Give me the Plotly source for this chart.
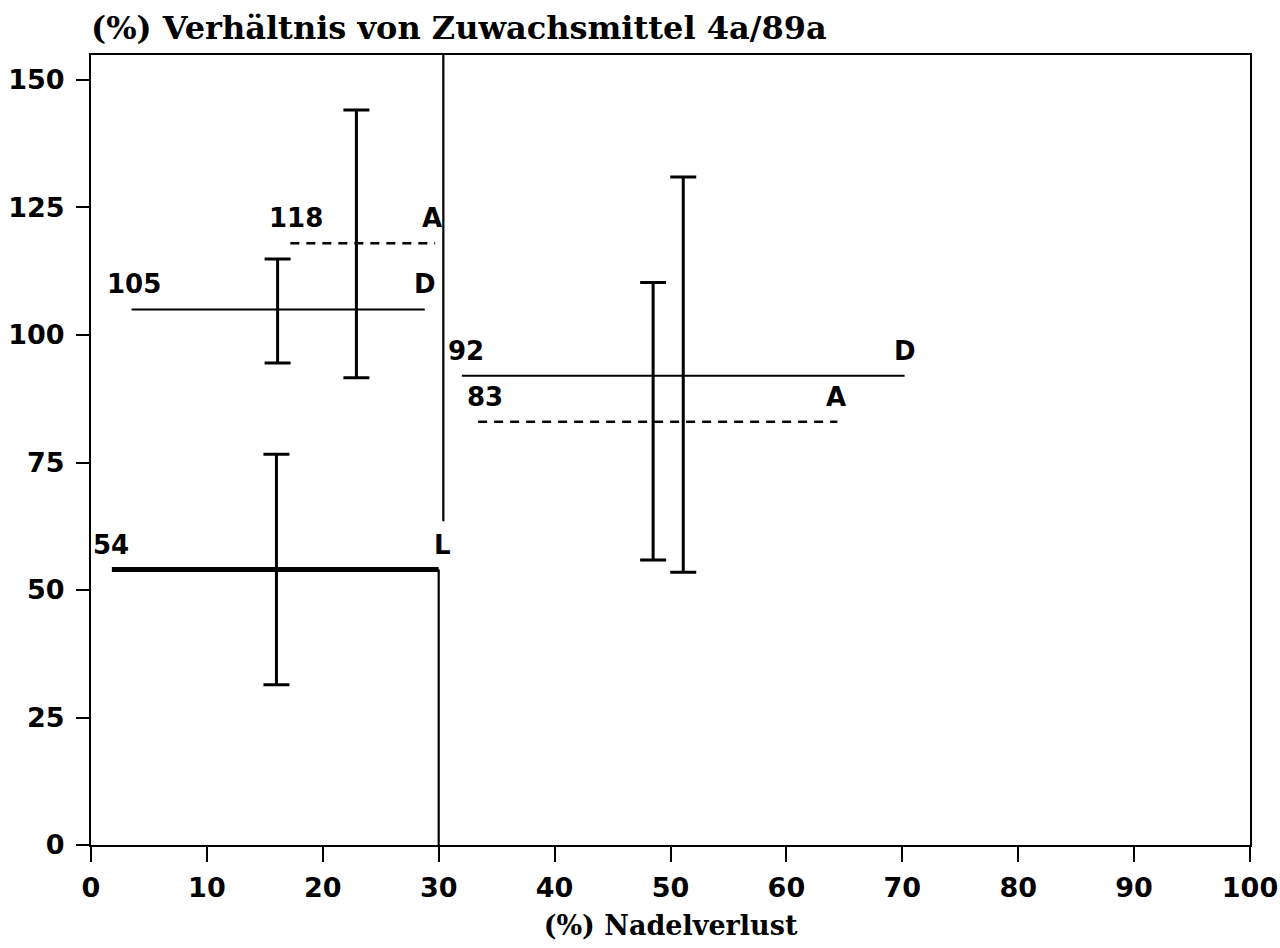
import plotly.graph_objects as go

# Horizontal mean lines: value, x-extent, style, end letter
line_values = [118, 105, 92, 83, 54]
line_x_start = [17.2, 3.5, 32.0, 33.4, 1.8]
line_x_end = [29.7, 28.8, 70.2, 64.4, 30.0]
line_dash = ["dash", "solid", "solid", "dash", "solid"]
line_width = [2.4, 2, 2, 2.4, 5]
line_letters = ["A", "D", "D", "A", "L"]

# label positions (x of number label, x of letter label)
number_label_x = [15.2, 1.2, 30.6, 32.3, 0.0]
letter_label_x = [29.4, 28.8, 70.2, 64.3, 30.3]

# Ranges (min/max) at each class position
range_x = [16.1, 22.9, 16.0, 48.5, 51.1]
range_low = [94.5, 91.6, 31.4, 55.9, 53.5]
range_high = [114.9, 144.1, 76.6, 110.3, 131.0]

# Class boundary at 30 % needle loss
boundary_x = 30.0
boundary_upper_x = 30.4
boundary_break = 63.5

x_ticks = list(range(0, 101, 10))
y_ticks = list(range(0, 151, 25))

Y_MAX = 154.9

fig = go.Figure()

for v, xs, xe, d, w in zip(line_values, line_x_start, line_x_end, line_dash, line_width):
    fig.add_trace(go.Scatter(
        x=[xs, xe], y=[v, v], mode="lines",
        line=dict(color="black", width=w, dash="9px,7px" if d == "dash" else "solid"),
        showlegend=False, hoverinfo="skip"))

# class boundary: lower part joined to the L line, upper part to the frame
fig.add_trace(go.Scatter(
    x=[boundary_x, boundary_x], y=[line_values[4], 0], mode="lines",
    line=dict(color="black", width=2.2), showlegend=False, hoverinfo="skip"))
fig.add_trace(go.Scatter(
    x=[boundary_upper_x, boundary_upper_x], y=[boundary_break, Y_MAX], mode="lines",
    line=dict(color="black", width=2.2), showlegend=False, hoverinfo="skip"))

# ranges as error bars around their midpoint
mid = [(lo + hi) / 2 for lo, hi in zip(range_low, range_high)]
half = [(hi - lo) / 2 for lo, hi in zip(range_low, range_high)]
fig.add_trace(go.Scatter(
    x=range_x, y=mid, mode="markers",
    marker=dict(size=1, color="rgba(0,0,0,0)"),
    error_y=dict(type="data", array=half, visible=True,
                 color="black", thickness=3, width=13),
    showlegend=False, hoverinfo="skip"))

label_font = dict(family="DejaVu Sans", size=26, color="black")
for v, nx, lx, letter in zip(line_values, number_label_x, letter_label_x, line_letters):
    fig.add_annotation(x=nx, y=v, text=f"<b>{v}</b>", showarrow=False,
                       xanchor="left", yanchor="middle", yshift=25, font=label_font)
    fig.add_annotation(x=lx, y=v, text=f"<b>{letter}</b>", showarrow=False,
                       xanchor="center", yanchor="middle", yshift=25, font=label_font)

fig.add_annotation(xref="paper", yref="paper", x=0, y=1, xanchor="left", yanchor="bottom",
                   xshift=-2, yshift=6, text="<b>(%) Verhältnis von Zuwachsmittel 4a/89a</b>",
                   showarrow=False, font=dict(family="DejaVu Serif", size=32, color="black"))

tick_font = dict(family="DejaVu Sans", size=27, color="black", weight="bold")
fig.update_layout(
    width=1280, height=948,
    margin=dict(l=91, r=30, t=55, b=103, autoexpand=False),
    paper_bgcolor="white", plot_bgcolor="white",
    xaxis=dict(range=[0, 100], tickvals=x_ticks, ticks="outside", ticklen=15,
               tickwidth=1.6, tickcolor="black", showgrid=False, zeroline=False,
               showline=True, linecolor="black", linewidth=2, mirror=True,
               tickfont=tick_font, ticklabelstandoff=3, automargin=False,
               title=dict(text="<b>(%) Nadelverlust</b>", standoff=14,
                          font=dict(family="DejaVu Serif", size=27, color="black"))),
    yaxis=dict(range=[0, Y_MAX], tickvals=y_ticks, ticks="outside", ticklen=13,
               tickwidth=1.6, tickcolor="black", showgrid=False, zeroline=False,
               showline=True, linecolor="black", linewidth=2, mirror=True,
               tickfont=tick_font, ticklabelstandoff=6, automargin=False),
)

fig.write_html("out.html")
